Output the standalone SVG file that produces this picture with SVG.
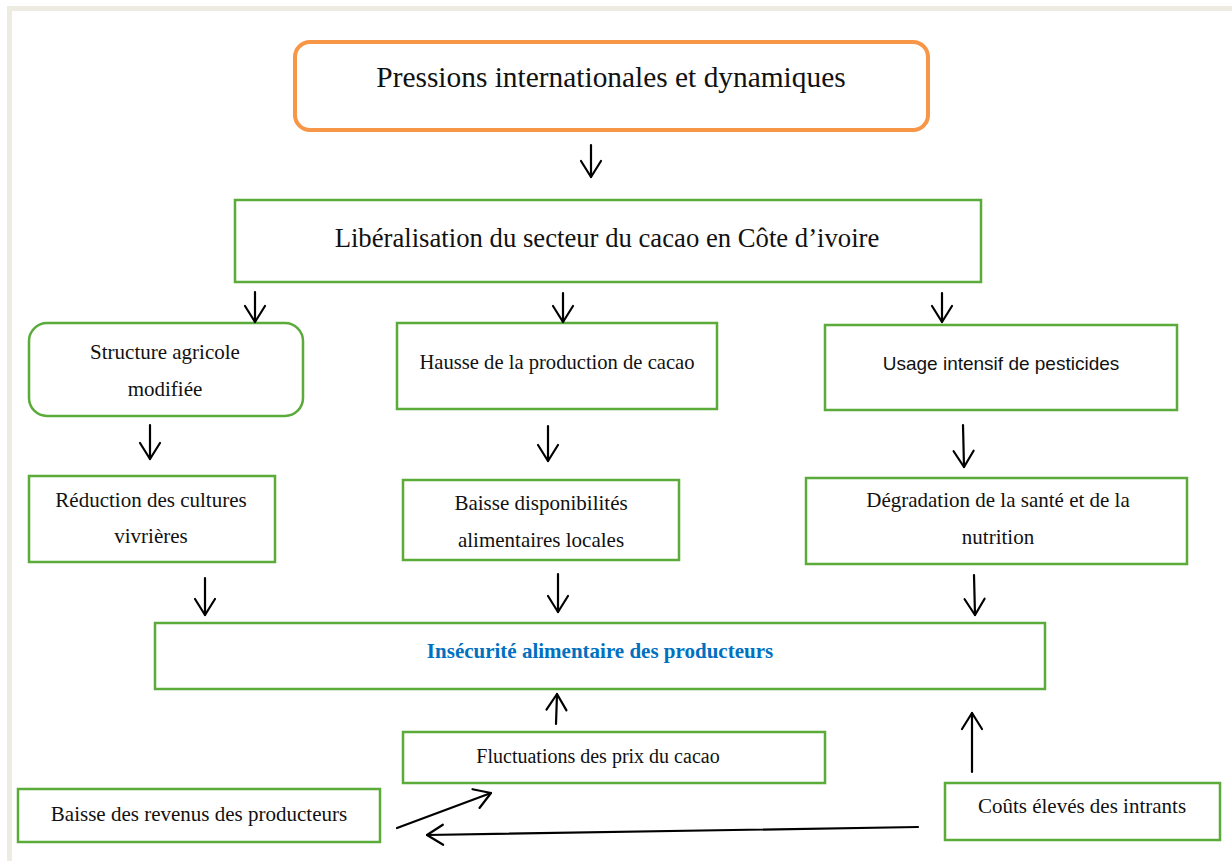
<svg xmlns="http://www.w3.org/2000/svg" width="1232" height="861" viewBox="0 0 1232 861">
<defs>
<style>
.g{fill:#fff;stroke:#5aab3a;stroke-width:2.5}
.o{fill:#fff;stroke:#f79646;stroke-width:4}
.t{font-family:"Liberation Serif","Times New Roman",serif;font-size:21px;fill:#111;text-anchor:middle}
.s{font-family:"Liberation Sans",Arial,sans-serif;font-size:19px;fill:#111;text-anchor:middle}
.a{stroke:#000;stroke-width:2.2;fill:none;stroke-linecap:round;marker-end:url(#v)}
</style>
<marker id="v" markerUnits="userSpaceOnUse" markerWidth="30" markerHeight="30" viewBox="-20 -15 24 30" refX="0" refY="0" orient="auto">
<path d="M-16,-10 L0,0 L-16,10" fill="none" stroke="#000" stroke-width="2.2" stroke-linecap="round" stroke-linejoin="round"/>
</marker>
</defs>
<rect x="0" y="0" width="1232" height="861" fill="#fff"/>
<rect x="7" y="6" width="1225" height="5" fill="#eeebe2"/>
<rect x="7" y="6" width="5" height="855" fill="#eeebe2"/>

<g id="n-pressions">
<rect class="o" x="295" y="42" width="633" height="88" rx="15"/>
<text class="t" x="611" y="87" style="font-size:29.4px">Pressions internationales et dynamiques</text>
</g>
<g id="n-liberalisation">
<rect class="g" x="235" y="200" width="746" height="82"/>
<text class="t" x="607" y="247" style="font-size:26.7px">Libéralisation du secteur du cacao en Côte d’ivoire</text>
</g>
<g id="n-structure">
<rect class="g" x="29" y="323" width="274" height="93" rx="18"/>
<text class="t" x="165" y="359">Structure agricole</text>
<text class="t" x="165" y="396">modifiée</text>
</g>
<g id="n-hausse">
<rect class="g" x="397" y="323" width="320" height="86"/>
<text class="t" x="557" y="369" style="font-size:20.6px">Hausse de la production de cacao</text>
</g>
<g id="n-usage">
<rect class="g" x="825" y="325" width="352" height="85"/>
<text class="s" x="1001" y="370">Usage intensif de pesticides</text>
</g>
<g id="n-reduction">
<rect class="g" x="29" y="476" width="246" height="86"/>
<text class="t" x="151" y="507">Réduction des cultures</text>
<text class="t" x="151" y="543">vivrières</text>
</g>
<g id="n-baisse-dispo">
<rect class="g" x="403" y="480" width="276" height="80"/>
<text class="t" x="541" y="510">Baisse disponibilités</text>
<text class="t" x="541" y="547">alimentaires locales</text>
</g>
<g id="n-degradation">
<rect class="g" x="806" y="478" width="381" height="86"/>
<text class="t" x="998" y="507">Dégradation de la santé et de la</text>
<text class="t" x="998" y="544">nutrition</text>
</g>
<g id="n-insecurite">
<rect class="g" x="155" y="623" width="890" height="66"/>
<text class="t" x="600" y="658" style="font-weight:bold;fill:#0070c0">Insécurité alimentaire des producteurs</text>
</g>
<g id="n-fluctuations">
<rect class="g" x="403" y="732" width="422" height="51"/>
<text class="t" x="598" y="763" style="font-size:20px">Fluctuations des prix du cacao</text>
</g>
<g id="n-revenus">
<rect class="g" x="18" y="789" width="362" height="53"/>
<text class="t" x="199" y="821">Baisse des revenus des producteurs</text>
</g>
<g id="n-couts">
<rect class="g" x="945" y="783" width="275" height="57"/>
<text class="t" x="1082" y="813">Coûts élevés des intrants</text>
</g>

<g id="connectors">
<line class="a" x1="591" y1="145" x2="591" y2="177"/>
<line class="a" x1="255" y1="292" x2="255" y2="322"/>
<line class="a" x1="563" y1="293" x2="563" y2="322"/>
<line class="a" x1="942" y1="293" x2="942" y2="322"/>
<line class="a" x1="150" y1="425" x2="150" y2="459"/>
<line class="a" x1="548" y1="426" x2="548" y2="461"/>
<line class="a" x1="963" y1="425" x2="964" y2="467"/>
<line class="a" x1="205" y1="578" x2="205" y2="615"/>
<line class="a" x1="558" y1="574" x2="558" y2="612"/>
<line class="a" x1="974" y1="575" x2="975" y2="615"/>
<line class="a" x1="556" y1="724" x2="557" y2="694"/>
<line class="a" x1="972" y1="772" x2="972" y2="713"/>
<line class="a" x1="397" y1="828" x2="491" y2="793"/>
<line class="a" x1="918" y1="827" x2="427" y2="835"/>
</g>
</svg>
